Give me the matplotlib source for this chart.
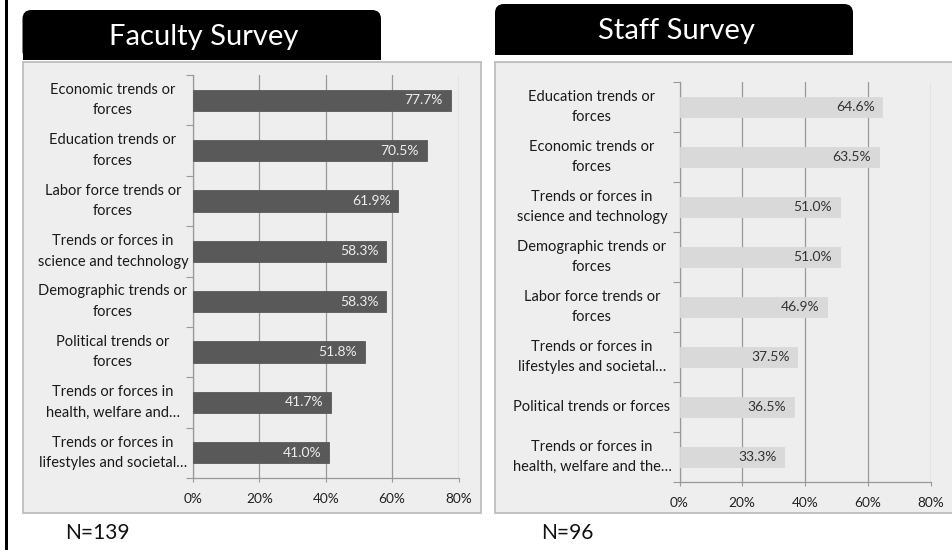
import matplotlib
matplotlib.use("Agg")
import matplotlib.pyplot as plt
from matplotlib.patches import Rectangle, FancyBboxPatch

plt.rcParams['font.family'] = ['Lato', 'DejaVu Sans']

# Faculty survey (top to bottom)
faculty_labels = [
    "Economic trends or\nforces",
    "Education trends or\nforces",
    "Labor force trends or\nforces",
    "Trends or forces in\nscience and technology",
    "Demographic trends or\nforces",
    "Political trends or\nforces",
    "Trends or forces in\nhealth, welfare and…",
    "Trends or forces in\nlifestyles and societal…",
]
faculty_values = [77.7, 70.5, 61.9, 58.3, 58.3, 51.8, 41.7, 41.0]
faculty_n = 139

# Staff survey (top to bottom)
staff_labels = [
    "Education trends or\nforces",
    "Economic trends or\nforces",
    "Trends or forces in\nscience and technology",
    "Demographic trends or\nforces",
    "Labor force trends or\nforces",
    "Trends or forces in\nlifestyles and societal…",
    "Political trends or forces",
    "Trends or forces in\nhealth, welfare and the…",
]
staff_values = [64.6, 63.5, 51.0, 51.0, 46.9, 37.5, 36.5, 33.3]
staff_n = 96

x_ticks = [0, 20, 40, 60, 80]

W, H = 952, 550
fig = plt.figure(figsize=(W / 100, H / 100), dpi=100)
fig.patch.set_facecolor("white")

# Background layer in pixel coordinates
bg = fig.add_axes([0, 0, 1, 1], zorder=0)
bg.set_xlim(0, W)
bg.set_ylim(H, 0)
bg.axis("off")

# left border stripe
bg.add_patch(Rectangle((4.5, 0), 3, H, facecolor="black", edgecolor="none"))


def panel(x0, y0, x1, y1):
    bg.add_patch(Rectangle((x0, y0), x1 - x0, y1 - y0, facecolor="#eeeeee",
                           edgecolor="#bdbdbd", linewidth=1.3))


def tab(x0, y0, x1, y1, title):
    bg.add_patch(FancyBboxPatch((x0, y0), x1 - x0, y1 - y0,
                                boxstyle="round,pad=0,rounding_size=9",
                                facecolor="black", edgecolor="none"))
    bg.add_patch(Rectangle((x0, (y0 + y1) / 2), x1 - x0, (y1 - y0) / 2,
                           facecolor="black", edgecolor="none"))
    bg.text((x0 + x1) / 2 + 2, (y0 + y1) / 2 + 2, title, color="white",
            fontsize=21, ha="center", va="center")


panel(22.5, 61.5, 480.5, 513)
panel(495, 61.5, 960, 513)
tab(22.5, 10, 381, 60, "Faculty Survey")
tab(495, 4, 853, 55, "Staff Survey")

bg.text(65, 533, f"N={faculty_n}", fontsize=15, ha="left", va="center", color="#111111")
bg.text(541, 533, f"N={staff_n}", fontsize=15, ha="left", va="center", color="#111111")


def px_axes(left, right, top, bottom):
    return fig.add_axes([left / W, 1 - bottom / H, (right - left) / W, (bottom - top) / H],
                        zorder=1)


def draw_chart(ax, labels, values, bar_color, text_color, label_cx, bar_h):
    n = len(values)
    ypos = list(range(n))
    ax.set_facecolor("none")
    ax.barh(ypos, values, height=bar_h, color=bar_color, edgecolor=bar_color,
            linewidth=0.6, zorder=3)
    ax.set_xlim(0, 80)
    ax.set_ylim(n - 0.5, -0.5)
    ax.set_xticks(x_ticks)
    ax.set_xticklabels([f"{t}%" for t in x_ticks], fontsize=9.8, color="#222222")
    ax.tick_params(axis="x", length=3, color="#999999", pad=8)
    ax.set_yticks([i + 0.5 for i in range(-1, n)])
    ax.set_yticklabels([])
    ax.tick_params(axis="y", length=5, color="#999999", direction="out")
    ax.grid(axis="x", color="#999999", linewidth=0.9, zorder=1)
    for s in ("top", "right"):
        ax.spines[s].set_visible(False)
    for s in ("left", "bottom"):
        ax.spines[s].set_color("#999999")
        ax.spines[s].set_linewidth(0.9)
    for y, v in zip(ypos, values):
        ax.text(v - 2.4, y, f"{v:.1f}%", ha="right", va="center",
                fontsize=10, color=text_color, zorder=4)
    # category labels, centred in a fixed column left of the axis
    trans = matplotlib.transforms.blended_transform_factory(bg.transData, ax.transData)
    for y, lab in zip(ypos, labels):
        ax.text(label_cx, y, lab, transform=trans, ha="center", va="center",
                multialignment="center", fontsize=10.5, color="#1a1a1a",
                linespacing=1.6, clip_on=False)


ax1 = px_axes(193, 458.5, 75, 478)
draw_chart(ax1, faculty_labels, faculty_values, "#595959", "#eeeeee", 113, 0.42)

ax2 = px_axes(679.5, 930.5, 82, 482)
draw_chart(ax2, staff_labels, staff_values, "#d9d9d9", "#333333", 592, 0.40)

fig.savefig("out.png", dpi=100, facecolor="white")
